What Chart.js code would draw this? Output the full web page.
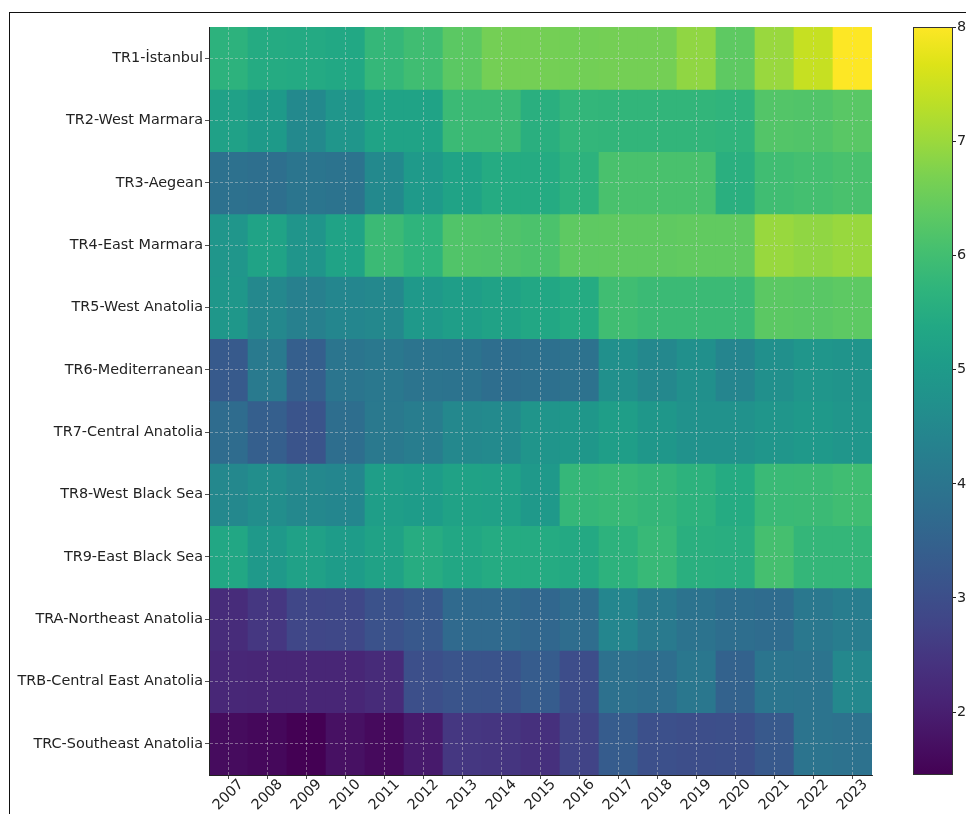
<!DOCTYPE html>
<html>
<head>
<meta charset="utf-8">
<script src="https://cdn.jsdelivr.net/npm/chart.js@4.4.0/dist/chart.umd.min.js"></script>
<style>
    body { margin: 0; background: #fff; }
    #wrap { position: relative; width: 966px; height: 814px; overflow: hidden; background: #fff; }
    #frame { position: absolute; left: 9px; top: 12px; width: 1000px; height: 900px; border-left: 1.5px solid #111; border-top: 1.5px solid #111; }
    #mainBox { position: absolute; left: 0; top: 0; width: 966px; height: 814px; }
    #cbarBox { position: absolute; left: 900px; top: 0; width: 66px; height: 814px; }
</style>
</head>
<body>
<div id="wrap">
    <div id="frame"></div>
    <div id="mainBox"><canvas id="heatmap"></canvas></div>
    <div id="cbarBox"><canvas id="cbar"></canvas></div>
</div>
<script>
const years = ['2007', '2008', '2009', '2010', '2011', '2012', '2013', '2014', '2015', '2016', '2017', '2018', '2019', '2020', '2021', '2022', '2023'];

const regions = ['TR1-İstanbul', 'TR2-West Marmara', 'TR3-Aegean', 'TR4-East Marmara', 'TR5-West Anatolia',
    'TR6-Mediterranean', 'TR7-Central Anatolia', 'TR8-West Black Sea', 'TR9-East Black Sea',
    'TRA-Northeast Anatolia', 'TRB-Central East Anatolia', 'TRC-Southeast Anatolia'];

// one array per region, 2007..2023
const istanbul = [5.65, 5.45, 5.43, 5.38, 5.8, 5.97, 6.33, 6.62, 6.62, 6.6, 6.62, 6.62, 6.9, 6.36, 6.98, 7.44, 8.0];
const westMarmara = [5.18, 5.0, 4.53, 4.87, 5.25, 5.25, 5.9, 5.9, 5.58, 5.77, 5.75, 5.75, 5.75, 5.72, 6.23, 6.2, 6.3];
const aegean = [3.87, 3.82, 4.0, 3.92, 4.53, 4.99, 5.25, 5.45, 5.45, 5.65, 6.1, 6.1, 6.1, 5.58, 5.97, 6.04, 6.1];
const eastMarmara = [4.87, 5.25, 4.85, 5.25, 5.9, 5.7, 6.2, 6.18, 6.12, 6.36, 6.38, 6.38, 6.4, 6.4, 6.97, 6.9, 6.97];
const westAnatolia = [4.9, 4.5, 4.28, 4.45, 4.5, 4.95, 5.12, 5.22, 5.35, 5.45, 5.97, 5.9, 5.9, 5.9, 6.33, 6.3, 6.35];
const mediterranean = [3.28, 4.13, 3.42, 4.0, 4.07, 3.97, 3.92, 3.8, 3.85, 3.9, 4.7, 4.5, 4.7, 4.42, 4.7, 4.87, 4.82];
const centralAnatolia = [3.74, 3.42, 3.15, 3.8, 4.1, 4.2, 4.5, 4.55, 4.85, 4.9, 5.12, 4.9, 4.75, 4.75, 4.87, 4.97, 4.87];
const westBlackSea = [4.5, 4.65, 4.5, 4.45, 5.12, 5.05, 5.22, 5.2, 4.97, 5.8, 5.85, 5.78, 5.65, 5.45, 5.88, 5.9, 5.97];
const eastBlackSea = [5.35, 4.97, 5.2, 5.05, 5.22, 5.5, 5.35, 5.45, 5.45, 5.42, 5.65, 5.85, 5.58, 5.55, 6.05, 5.78, 5.78];
const northeastAnatolia = [2.27, 2.5, 2.83, 2.85, 3.09, 3.25, 3.7, 3.7, 3.62, 3.76, 4.45, 4.13, 3.92, 3.8, 3.74, 4.07, 4.2];
const centralEastAnatolia = [2.17, 2.15, 2.15, 2.15, 2.25, 3.02, 3.15, 3.12, 3.35, 2.97, 3.87, 3.8, 4.05, 3.5, 4.0, 3.95, 4.5];
const southeastAnatolia = [1.65, 1.58, 1.45, 1.74, 1.62, 1.92, 2.5, 2.47, 2.37, 2.76, 3.35, 3.05, 3.0, 3.02, 3.27, 3.97, 3.9];

const rows = [istanbul, westMarmara, aegean, eastMarmara, westAnatolia, mediterranean,
    centralAnatolia, westBlackSea, eastBlackSea, northeastAnatolia, centralEastAnatolia, southeastAnatolia];

const colorbarTicks = [2, 3, 4, 5, 6, 7, 8];

const vmin = Math.min(...rows.flat());
const vmax = Math.max(...rows.flat());

// viridis sampled every 0.05
const viridisStops = ['#440154', '#471365', '#482475', '#46337f', '#414487', '#3b528b', '#355f8d',
    '#2f6c8e', '#2a788e', '#25848e', '#21918c', '#1e9c89', '#22a884', '#2fb47c', '#44bf70',
    '#5ec962', '#7ad151', '#9dd93b', '#bddf26', '#dde318', '#fde725'];

function hexToRgb(h) {
    return [parseInt(h.slice(1, 3), 16), parseInt(h.slice(3, 5), 16), parseInt(h.slice(5, 7), 16)];
}

function viridis(t) {
    t = Math.max(0, Math.min(1, t));
    const pos = t * (viridisStops.length - 1);
    const i = Math.min(Math.floor(pos), viridisStops.length - 2);
    const f = pos - i;
    const a = hexToRgb(viridisStops[i]);
    const b = hexToRgb(viridisStops[i + 1]);
    const c = a.map((v, k) => Math.round(v + (b[k] - v) * f));
    return `rgb(${c[0]},${c[1]},${c[2]})`;
}

const font = { family: 'DejaVu Sans', size: 14.4 };
const textColor = '#222';
const gridColor = 'rgba(215,215,215,0.55)';

// year labels, rotated like the original (centred under each tick)
const yearLabels = {
    id: 'yearLabels',
    afterDraw(chart) {
        const ctx = chart.ctx;
        const xs = chart.scales.x;
        ctx.save();
        ctx.font = `${font.size}px ${font.family}`;
        ctx.fillStyle = textColor;
        ctx.textAlign = 'center';
        ctx.textBaseline = 'middle';
        years.forEach((y, i) => {
            ctx.save();
            ctx.translate(xs.getPixelForTick(i), chart.chartArea.bottom + 20);
            ctx.rotate(-Math.PI / 4);
            ctx.fillText(y, 0, 0);
            ctx.restore();
        });
        ctx.restore();
    }
};

new Chart(document.getElementById('heatmap'), {
    type: 'bar',
    data: {
        labels: years,
        datasets: regions.map((name, r) => ({
            label: name,
            data: years.map(() => 1),
            backgroundColor: rows[r].map(v => viridis((v - vmin) / (vmax - vmin))),
            borderWidth: 0,
            barPercentage: 1,
            categoryPercentage: 1,
            stack: 'cells'
        }))
    },
    options: {
        responsive: true,
        maintainAspectRatio: false,
        animation: false,
        layout: { padding: { left: 0, right: 94, top: 27, bottom: 0 } },
        plugins: { legend: { display: false }, tooltip: { enabled: false } },
        scales: {
            x: {
                stacked: true,
                offset: true,
                grid: { offset: false, color: gridColor, lineWidth: 0.8, z: 1, tickLength: 4, tickColor: textColor, tickBorderDash: [] },
                border: { display: true, color: textColor, width: 1, dash: [3, 2], z: 1 },
                ticks: { color: 'rgba(0,0,0,0)', font: font, maxRotation: 0, autoSkip: false },
                afterFit(s) { s.height = 39; }
            },
            y: {
                type: 'linear',
                stacked: true,
                reverse: true,
                min: 0,
                max: regions.length,
                afterBuildTicks(s) { s.ticks = regions.map((_, i) => ({ value: i + 0.5 })); },
                grid: { color: gridColor, lineWidth: 0.8, z: 1, tickLength: 4, tickColor: textColor, tickBorderDash: [] },
                border: { display: true, color: textColor, width: 1, dash: [3, 2], z: 1 },
                ticks: { font: font, color: textColor, padding: 2, autoSkip: false, callback: (v, i) => regions[i] },
                afterFit(s) { s.width = 209; }
            }
        }
    },
    plugins: [yearLabels]
});

const outline = {
    id: 'outline',
    afterDatasetsDraw(chart) {
        const a = chart.chartArea;
        const ctx = chart.ctx;
        ctx.save();
        ctx.strokeStyle = '#333';
        ctx.lineWidth = 1;
        ctx.strokeRect(a.left + 0.5, a.top + 0.5, a.right - a.left - 1, a.bottom - a.top - 1);
        ctx.restore();
    }
};

new Chart(document.getElementById('cbar'), {
    type: 'bar',
    data: {
        labels: [''],
        datasets: [{
            data: [[vmin, vmax]],
            backgroundColor(c) {
                const a = c.chart.chartArea;
                if (!a) return viridis(0.5);
                const g = c.chart.ctx.createLinearGradient(0, a.bottom, 0, a.top);
                viridisStops.forEach((hex, i) => g.addColorStop(i / (viridisStops.length - 1), hex));
                return g;
            },
            borderWidth: 0,
            barPercentage: 1,
            categoryPercentage: 1
        }]
    },
    options: {
        responsive: true,
        maintainAspectRatio: false,
        animation: false,
        layout: { padding: { left: 13, right: 0, top: 27, bottom: 39 } },
        plugins: { legend: { display: false }, tooltip: { enabled: false } },
        scales: {
            x: { display: false },
            y: {
                position: 'right',
                min: vmin,
                max: vmax,
                afterBuildTicks(s) { s.ticks = colorbarTicks.map(v => ({ value: v })); },
                ticks: { font: font, color: textColor, padding: 1 },
                grid: { drawOnChartArea: false, tickLength: 3, tickColor: textColor },
                border: { display: false },
                afterFit(s) { s.width = 13; }
            }
        }
    },
    plugins: [outline]
});
</script>
</body>
</html>
